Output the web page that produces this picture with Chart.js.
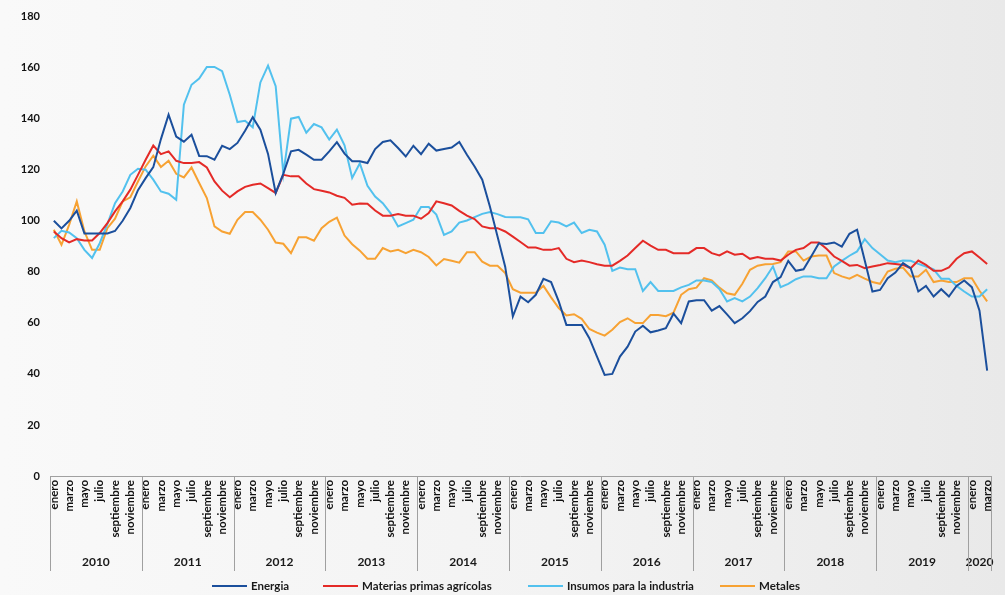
<!DOCTYPE html>
<html>
<head>
<meta charset="utf-8">
<script src="https://cdn.jsdelivr.net/npm/chart.js@4.4.1/dist/chart.umd.min.js"></script>
<style>
  html, body { margin: 0; padding: 0; }
  body { width: 1005px; height: 595px; background: linear-gradient(to right, #f9f9f9 0%, #f3f3f3 55%, #e9e9e9 100%); }
  #wrap { position: relative; width: 1005px; height: 595px; }
</style>
</head>
<body>
<div id="wrap"><canvas id="c"></canvas></div>
<script>
const years = ['2010','2011','2012','2013','2014','2015','2016','2017','2018','2019','2020'];
const monthsPerYear = [12,12,12,12,12,12,12,12,12,12,3];
const monthNames = ['enero','febrero','marzo','abril','mayo','junio','julio','agosto','septiembre','octubre','noviembre','diciembre'];
const shownMonths = ['enero','marzo','mayo','julio','septiembre','noviembre'];
const yTicks = [0,20,40,60,80,100,120,140,160,180];
const seriesNames = ['Energia','Materias primas agrícolas','Insumos para la industria','Metales'];

const energia = [100,97,100,104,95,95,95,95,96,100,105,112,116.7,121,132,141.6,133,131,133.7,125.4,
125.3,123.9,129.4,128.1,130.5,135.3,140.6,135.7,126.2,110.9,118.5,127.2,127.8,125.9,123.9,123.9,127.2,130.8,126.3,123.3,
123.3,122.6,128.1,130.9,131.5,128.5,125.2,129.4,126.1,130.2,127.5,128.1,128.7,130.9,125.9,121.3,116.1,105.6,93.8,82,
62.5,70.3,68.1,71,77.3,76,68.4,59.2,59.2,59.2,54,46.8,39.6,40,46.8,50.7,56.6,58.9,56.3,57,
57.9,63.6,59.9,68.4,68.9,68.9,64.8,66.6,63.3,59.9,61.8,64.6,68.2,70.3,76,77.9,84.3,80.4,81,86,
91.2,90.9,91.5,89.9,94.9,96.5,84.4,72.3,72.9,77.5,79.7,83.4,81.4,72.3,74.5,70.3,73.2,70.3,74.5,76.6,
74,64.8,41.3];

const materiasPrimas = [95.8,93.2,91.5,92.8,92.3,92.3,95.2,99.1,103.7,107.6,112.2,118,123.9,129.5,126.1,127.2,123.5,122.6,122.6,123,
120.9,115.4,111.8,109.2,111.5,113.3,114.1,114.6,112.8,110.9,118,117.4,117.4,114.6,112.4,111.8,111.1,109.8,109,106.3,
106.8,106.7,104,102,102,102.6,102,102,100.8,103,107.6,106.9,106,103.9,102,100.7,97.8,97.1,97.1,95.8,
93.8,91.7,89.5,89.5,88.6,88.6,89.3,85.1,83.8,84.4,83.8,83,82.4,82.4,84.3,86.4,89.3,92.2,90.3,88.6,
88.6,87.3,87.3,87.3,89.3,89.3,87.3,86.4,88,86.7,87.1,85.1,85.8,85.1,85.1,84.4,86.7,88.6,89.3,91.5,
91.5,89,86,84.3,82.4,82.7,81.4,82.1,82.7,83.4,83.1,82.7,81.4,84.4,82.7,80.4,80.4,81.7,85.1,87.3,
88,85.6,83.1];

const insumos = [93.2,96.1,95.4,93.2,88.6,85.4,91.2,98.7,106.9,111.5,118,120.4,120,116.1,111.5,110.6,108.2,145.5,153.3,155.7,
160.3,160.3,158.6,149.4,138.7,139.2,136.6,154.2,160.8,152.7,118.4,140,140.7,134.5,137.9,136.6,131.8,135.7,129.6,116.8,
122.5,113.7,109.5,106.9,103,97.8,99.1,100.4,105.4,105.4,102.4,94.5,95.8,99.3,100.1,101.4,102.7,103.4,102.6,101.5,
101.4,101.4,100.6,95.2,95.2,99.8,99.3,97.8,99.3,95.2,96.5,95.8,90.6,80.4,81.7,81,81,72.5,76,72.5,
72.5,72.5,73.9,74.9,76.6,76.6,76,73.3,68.4,69.7,68.4,70.3,73.6,77.5,82.1,74,75.3,77.1,78.2,78.2,
77.5,77.5,82.1,84.3,86.3,88,92.8,89.3,86.9,84.4,83.8,84.4,84.3,83.1,82.1,81,77.3,77.3,74.5,72.3,
70.3,70.3,73.2];

const metales = [96.5,90.6,98.4,107.6,95.8,88.6,88.6,97.1,100.8,107.6,109.2,115.4,121.3,125.5,121.1,123.5,118.4,117,120.9,114.8,
108.9,97.8,95.8,94.9,100.4,103.4,103.4,100.4,96.5,91.5,91,87.3,93.5,93.5,92.2,97.1,99.6,101.2,94.2,90.8,
88.3,85.1,85.1,89.3,88,88.6,87.3,88.6,87.7,85.8,82.5,85,84.3,83.6,87.7,87.7,84,82.4,82.4,79.5,
73.2,71.8,71.8,71.8,74.5,70,65.8,62.9,63.4,61.6,57.6,56.2,55,57.3,60.3,61.8,59.9,59.9,63.1,63.1,
62.6,64,71,73.2,73.8,77.5,76.6,73.8,71.6,71,75.3,80.8,82.4,83,83.1,83.8,88,88,84.4,86,
86.4,86.4,79.5,78.2,77.3,78.8,77.3,76,75.3,80.1,81.2,81.7,78.2,78.2,80.8,76,76.6,76,76,77.5,
77.5,72.6,68.4];

const seriesColors = ['#1b4f9c', '#e42a27', '#52c1ee', '#f7a233'];

// Build categories
const labels = [];
years.forEach((y, yi) => {
  for (let m = 0; m < monthsPerYear[yi]; m++) labels.push(monthNames[m] + ' ' + y);
});

const FONT = 'Lato, "Open Sans", "DejaVu Sans", sans-serif';

const yearPlugin = {
  id: 'yearGroups',
  afterDraw(chart) {
    const ctx = chart.ctx;
    const xs = chart.scales.x;
    const area = chart.chartArea;
    const step = xs.getPixelForValue(1) - xs.getPixelForValue(0);
    const sepBottom = 571;
    ctx.save();
    ctx.strokeStyle = '#a0a0a0';
    ctx.lineWidth = 1;
    let start = 0;
    const bounds = [];
    years.forEach((y, yi) => {
      const s = start, e = start + monthsPerYear[yi] - 1;
      bounds.push(xs.getPixelForValue(s) - step / 2);
      const cx = (xs.getPixelForValue(s) + xs.getPixelForValue(e)) / 2;
      ctx.fillStyle = '#1a1a1a';
      ctx.font = 'bold 12px ' + FONT;
      ctx.textAlign = 'center';
      ctx.textBaseline = 'middle';
      ctx.fillText(y, cx, 562);
      start += monthsPerYear[yi];
    });
    bounds.push(xs.getPixelForValue(start - 1) + step / 2);
    bounds.forEach(bx => {
      ctx.beginPath();
      ctx.moveTo(Math.round(bx) + 0.5, area.bottom);
      ctx.lineTo(Math.round(bx) + 0.5, sepBottom);
      ctx.stroke();
    });

    // Legend (Excel-style fixed slots)
    const slots = [212, 323, 528, 720];
    const ly = 586;
    ctx.font = 'bold 11.5px ' + FONT;
    ctx.textAlign = 'left';
    ctx.textBaseline = 'middle';
    chart.data.datasets.forEach((ds, i) => {
      ctx.strokeStyle = ds.borderColor;
      ctx.lineWidth = 2;
      ctx.beginPath();
      ctx.moveTo(slots[i], ly);
      ctx.lineTo(slots[i] + 35, ly);
      ctx.stroke();
      ctx.fillStyle = '#1a1a1a';
      ctx.fillText(ds.label, slots[i] + 39, ly);
    });
    ctx.restore();
  }
};

new Chart(document.getElementById('c'), {
  type: 'line',
  data: {
    labels: labels,
    datasets: [energia, materiasPrimas, insumos, metales].map((d, i) => ({
      label: seriesNames[i],
      data: d,
      borderColor: seriesColors[i],
      backgroundColor: seriesColors[i],
      borderWidth: 2,
      pointRadius: 0,
      pointHoverRadius: 0,
      tension: 0,
      fill: false
    }))
  },
  options: {
    responsive: true,
    maintainAspectRatio: false,
    animation: false,
    layout: { padding: { left: 12, right: 12, top: 10, bottom: 0 } },
    plugins: {
      tooltip: { enabled: false },
      legend: { display: false }
    },
    scales: {
      x: {
        type: 'category',
        offset: true,
        grid: { display: false, drawTicks: false },
        border: { display: true, color: '#a0a0a0', width: 1 },
        ticks: {
          autoSkip: false,
          minRotation: 90,
          maxRotation: 90,
          padding: 4,
          color: '#111',
          font: { family: FONT, size: 11.5, weight: 'bold' },
          callback(value, index) {
            const name = labels[index].split(' ')[0];
            return shownMonths.includes(name) ? name : '';
          }
        },
        afterFit(scale) { scale.height = 119; }
      },
      y: {
        min: 0,
        max: 180,
        grid: { display: false, drawTicks: false },
        border: { display: false },
        afterBuildTicks(scale) { scale.ticks = yTicks.map(v => ({ value: v })); },
        ticks: {
          padding: 10,
          color: '#111',
          font: { family: FONT, size: 11, weight: 'bold' }
        },
        afterFit(scale) { scale.width = 38; }
      }
    }
  },
  plugins: [yearPlugin]
});
</script>
</body>
</html>
